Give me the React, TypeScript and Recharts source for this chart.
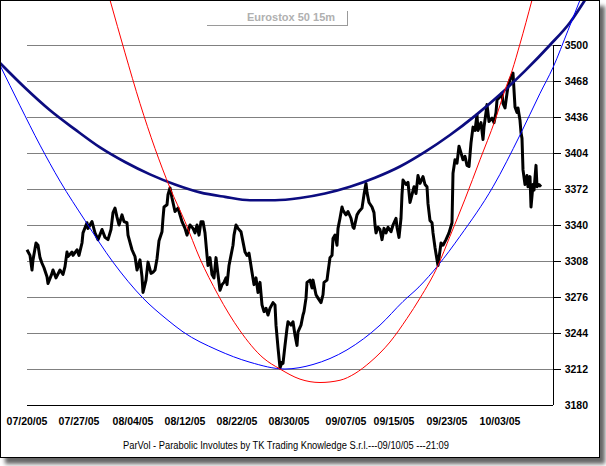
import React from 'react';
import { LineChart, Line, XAxis, YAxis, ReferenceLine } from 'recharts';

// ---- data ----
const xTickDates = ['07/20/05', '07/27/05', '08/04/05', '08/12/05', '08/22/05', '08/30/05', '09/07/05', '09/15/05', '09/23/05', '10/03/05'];
const xTickBars = [0, 52, 106, 158, 210, 262, 319, 367, 420, 473];
const yTicks = [3180, 3212, 3244, 3276, 3308, 3340, 3372, 3404, 3436, 3468, 3500];

const barDomain: [number, number] = [-27, 573];
const priceDomain: [number, number] = [3180, 3540];
const gridStartBar = 0;
const gridEndBar = 526;
const tickEndBar = 534;

// [bar, price]
const price: [number, number][] = [
  [0, 3318], [3, 3313], [5, 3300], [6, 3309], [9, 3324], [11, 3322], [13, 3311], [15, 3306], [17, 3302], [20, 3294],
  [21, 3288], [25, 3297], [26, 3300], [29, 3293], [33, 3300], [36, 3296], [38, 3303], [40, 3316], [41, 3312], [45, 3316],
  [46, 3313], [50, 3318], [52, 3313], [55, 3324], [56, 3333], [60, 3342], [61, 3337], [65, 3343], [68, 3333], [71, 3327],
  [75, 3336], [78, 3329], [81, 3327], [84, 3336], [86, 3351], [88, 3355], [90, 3347], [92, 3340], [95, 3349], [97, 3343],
  [100, 3342], [101, 3331], [105, 3318], [108, 3312], [110, 3300], [113, 3309], [115, 3294], [116, 3280], [119, 3291], [121, 3307],
  [124, 3297], [126, 3298], [128, 3300], [130, 3310], [132, 3326], [135, 3334], [136, 3346], [137, 3356], [140, 3358], [141, 3367],
  [143, 3373], [145, 3364], [146, 3360], [148, 3352], [151, 3355], [155, 3343], [158, 3337], [160, 3331], [163, 3340], [166, 3337],
  [168, 3333], [170, 3340], [172, 3331], [174, 3343], [176, 3343], [178, 3333], [180, 3313], [181, 3304], [183, 3311], [185, 3296],
  [187, 3293], [189, 3311], [191, 3296], [193, 3282], [195, 3287], [197, 3289], [199, 3293], [200, 3287], [202, 3304], [204, 3313],
  [206, 3322], [207, 3331], [209, 3340], [211, 3337], [214, 3334], [216, 3325], [218, 3316], [220, 3313], [222, 3315], [225, 3298],
  [227, 3287], [229, 3293], [231, 3280], [233, 3289], [235, 3269], [237, 3263], [239, 3266], [241, 3260], [243, 3266], [246, 3271],
  [248, 3269], [249, 3251], [251, 3231], [253, 3213], [255, 3218], [256, 3217], [258, 3233], [260, 3248], [261, 3254], [264, 3251],
  [266, 3254], [268, 3242], [270, 3233], [271, 3245], [274, 3251], [276, 3260], [277, 3263], [279, 3275], [280, 3289], [283, 3291],
  [285, 3284], [286, 3291], [289, 3278], [291, 3275], [294, 3271], [296, 3278], [297, 3289], [300, 3291], [301, 3298], [303, 3311],
  [305, 3313], [306, 3328], [308, 3331], [310, 3322], [311, 3337], [313, 3346], [315, 3356], [316, 3353], [319, 3349], [321, 3352],
  [324, 3346], [326, 3338], [327, 3337], [330, 3349], [332, 3352], [335, 3355], [337, 3367], [339, 3377], [340, 3369], [342, 3360],
  [345, 3356], [347, 3351], [348, 3340], [349, 3333], [351, 3338], [353, 3336], [355, 3327], [357, 3337], [359, 3333], [361, 3338],
  [364, 3334], [366, 3340], [369, 3346], [370, 3338], [372, 3329], [374, 3346], [375, 3367], [376, 3380], [379, 3376], [381, 3378],
  [383, 3360], [385, 3367], [387, 3374], [389, 3368], [391, 3384], [393, 3377], [396, 3383], [398, 3376], [400, 3374], [401, 3359],
  [403, 3344], [405, 3342], [406, 3333], [408, 3320], [410, 3309], [411, 3304], [414, 3324], [416, 3322], [419, 3327], [422, 3333],
  [425, 3342], [426, 3386], [428, 3398], [430, 3395], [432, 3410], [434, 3404], [436, 3398], [438, 3401], [440, 3393], [442, 3392],
  [444, 3413], [446, 3427], [448, 3424], [450, 3438], [451, 3424], [454, 3431], [456, 3416], [457, 3427], [459, 3440], [460, 3447],
  [462, 3432], [465, 3435], [467, 3431], [469, 3440], [470, 3451], [472, 3453], [475, 3457], [476, 3448], [478, 3444], [480, 3457],
  [481, 3463], [483, 3469], [485, 3473], [486, 3475], [487, 3460], [488, 3445], [490, 3440], [491, 3444], [493, 3433], [494, 3422],
  [495, 3417], [496, 3389], [498, 3376], [500, 3384], [501, 3374], [503, 3383], [504, 3356], [506, 3376], [507, 3371], [509, 3393],
  [510, 3374], [512, 3376], [514, 3374],
];

const navyCurve: [number, number][] = [
  [-27, 3484], [-2, 3462], [23, 3442], [48, 3425], [73, 3409], [98, 3396], [123, 3385], [148, 3376], [173, 3369],
  [198, 3365], [223, 3362], [248, 3362], [273, 3364], [298, 3368], [323, 3374], [348, 3382], [373, 3392], [398, 3405],
  [423, 3420], [448, 3437], [473, 3456], [498, 3477], [523, 3500], [543, 3520], [558, 3540],
];

const blueCurve: [number, number][] = [
  [-27, 3482], [-7, 3446], [13, 3411], [33, 3379], [58, 3344], [86, 3307], [116, 3275], [140, 3256], [156, 3245],
  [190, 3229], [223, 3218], [258, 3212], [286, 3216], [320, 3229], [353, 3251], [376, 3272], [392, 3285], [411, 3304],
  [433, 3330], [466, 3374], [493, 3420], [513, 3457], [526, 3480], [541, 3513], [553, 3540],
];

const redCurve: [number, number][] = [
  [83, 3540], [98, 3493], [113, 3448], [128, 3408], [143, 3373], [158, 3343], [173, 3310], [191, 3278], [213, 3246],
  [236, 3222], [253, 3212], [273, 3203], [293, 3200], [313, 3202], [328, 3208], [343, 3218], [363, 3236], [380, 3257],
  [393, 3275], [411, 3304], [423, 3330], [438, 3363], [453, 3398], [468, 3433], [478, 3460], [485, 3477], [493, 3501],
  [505, 3540],
];

const toRows = (pairs: [number, number][]) => pairs.map(([t, v]) => ({ t, v }));

const FONT = '"Liberation Sans", Arial, sans-serif';

export default function App() {
  const priceRows = toRows(price);
  const navyRows = toRows(navyCurve);
  const blueRows = toRows(blueCurve);
  const redRows = toRows(redCurve);

  return (
    <div style={{ position: 'absolute', left: 0, top: 0, width: 606, height: 466, background: '#fff', overflow: 'hidden' }}>
      <div
        style={{
          position: 'absolute', left: 0, top: 0, width: 600, height: 458,
          background: '#fff', boxShadow: '5px 6px 4px rgba(0,0,0,0.6)',
        }}
      />
      <div style={{ position: 'absolute', left: 0, top: 0 }}>
        <LineChart width={600} height={457} margin={{ top: 0, right: 0, bottom: 0, left: 0 }}>
          <XAxis
            dataKey="t"
            type="number"
            domain={barDomain}
            ticks={xTickBars}
            interval={0}
            tickFormatter={(v: number) => xTickDates[xTickBars.indexOf(v)] ?? ''}
            axisLine={false}
            tickLine={false}
            tickSize={0}
            tickMargin={13}
            height={52}
            tick={{ fill: '#000', fontSize: 10.5, fontWeight: 'bold', fontFamily: FONT }}
            allowDataOverflow={false}
          />
          <YAxis
            dataKey="v"
            type="number"
            orientation="right"
            mirror
            domain={priceDomain}
            ticks={yTicks}
            interval={0}
            axisLine={false}
            tickLine={false}
            tickSize={0}
            tickMargin={12}
            tick={{ fill: '#000', fontSize: 10.5, fontWeight: 'bold', fontFamily: FONT }}
          />
          {yTicks.map((y) => (
            <ReferenceLine
              key={`g${y}`}
              segment={[{ x: gridStartBar, y }, { x: gridEndBar, y }]}
              stroke={y === priceDomain[0] ? '#000' : '#808080'}
              strokeWidth={1}
              shapeRendering="crispEdges"
            />
          ))}
          {yTicks.filter((y) => y !== priceDomain[0]).map((y) => (
            <ReferenceLine
              key={`k${y}`}
              segment={[{ x: gridEndBar, y }, { x: tickEndBar, y }]}
              stroke="#000"
              strokeWidth={1}
              shapeRendering="crispEdges"
            />
          ))}
          <ReferenceLine
            segment={[{ x: gridEndBar, y: priceDomain[0] }, { x: gridEndBar, y: yTicks[yTicks.length - 1] }]}
            stroke="#000"
            strokeWidth={1}
            shapeRendering="crispEdges"
          />
          <Line data={priceRows} dataKey="v" type="linear" stroke="#000" strokeWidth={3} dot={false} activeDot={false} isAnimationActive={false} strokeLinejoin="round" />
          <Line data={navyRows} dataKey="v" type="monotone" stroke="#0c0c80" strokeWidth={2.7} dot={false} activeDot={false} isAnimationActive={false} />
          <Line data={blueRows} dataKey="v" type="monotone" stroke="#0000ff" strokeWidth={1} dot={false} activeDot={false} isAnimationActive={false} />
          <Line data={redRows} dataKey="v" type="monotone" stroke="#ff0000" strokeWidth={1} dot={false} activeDot={false} isAnimationActive={false} />
        </LineChart>
      </div>
      <div
        style={{
          position: 'absolute', left: 0, top: 0, width: 600, height: 458,
          border: '1px solid #000', boxSizing: 'border-box', pointerEvents: 'none',
        }}
      />
      <div
        style={{
          position: 'absolute', left: 207, top: 11, width: 140, height: 14,
          borderRight: '1px solid #9a9a9a', borderBottom: '1px solid #9a9a9a',
        }}
      />
      <div
        style={{
          position: 'absolute', left: 247, top: 10, fontFamily: FONT, fontWeight: 'bold',
          fontSize: 11, color: '#b0b0b0', lineHeight: '14px', whiteSpace: 'nowrap',
        }}
      >
        Eurostox 50 15m
      </div>
      <svg width={600} height={20} style={{ position: 'absolute', left: 0, top: 436 }}>
        <text
          x={286}
          y={12.5}
          textAnchor="middle"
          fontFamily={FONT}
          fontSize={10}
          fill="#000"
          textLength={326}
          lengthAdjust="spacingAndGlyphs"
        >
          ParVol - Parabolic Involutes by TK Trading Knowledge S.r.l.---09/10/05 ---21:09
        </text>
      </svg>
    </div>
  );
}
